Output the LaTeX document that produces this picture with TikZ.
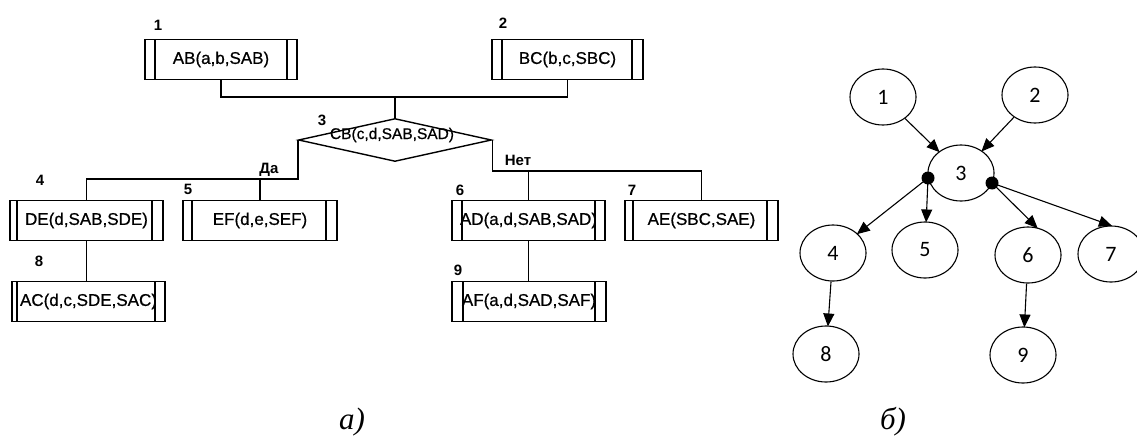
\documentclass[tikz,border=0pt]{standalone}
\usepackage{fontspec}
\setmainfont{Liberation Sans}
\newfontfamily\boxfont[FakeBold=0.6]{Liberation Sans}
\newfontfamily\capfont{Liberation Serif}
\newfontfamily\calfont{Carlito}
\usetikzlibrary{shapes.geometric,arrows.meta}
\begin{document}
\begin{tikzpicture}[x=1pt,y=-1pt,
  line width=1.4pt,
  pbox/.style n args={3}{draw, rectangle, inner sep=0pt, minimum width=#1, minimum height=40,
    font=\boxfont\fontsize{17}{20}\selectfont,
    path picture={
      \draw ([xshift=#2]path picture bounding box.north west) -- ([xshift=#2]path picture bounding box.south west);
      \draw ([xshift=-#3]path picture bounding box.north east) -- ([xshift=-#3]path picture bounding box.south east);}},
  num/.style={font=\bfseries\fontsize{15}{17}\selectfont, inner sep=0pt},
  ell/.style={draw, ellipse, line width=1.1pt, minimum width=66, minimum height=56, inner sep=0pt,
    font=\calfont\fontsize{22}{24}\selectfont},
  arr/.style={-{Triangle[length=13pt,width=11pt]}, line width=1.1pt, shorten >=-1pt},
  dot/.style={circle, fill=black, inner sep=0pt, minimum size=13},
  captext/.style={font=\capfont\itshape\fontsize{31}{34}\selectfont, anchor=base, inner sep=0pt}
]
\clip (0,0) rectangle (1137,439);
\fill[white] (0,0) rectangle (1137,439);

% ---- left diagram ----
\node[pbox={152}{10}{10}] (b1) at (221,59.5) {AB(a,b,SAB)};
\node[pbox={151}{10}{11}] (b2) at (567.5,59.5) {BC(b,c,SBC)};
\node[draw, diamond, inner sep=0pt, minimum width=193, minimum height=43] (d3) at (395,140) {};
\node[font=\boxfont\fontsize{15.5}{18}\selectfont, inner sep=0pt] (t3) at (392,135) {CB(c,d,SAB,SAD)};
\node[pbox={153}{7}{11}] (b4) at (86.5,220.5) {DE(d,SAB,SDE)};
\node[pbox={154}{9}{11}] (b5) at (260,220.5) {EF(d,e,SEF)};
\node[pbox={153}{10}{10}] (b6) at (528.5,220.5) {AD(a,d,SAB,SAD)};
\node[pbox={153}{8}{11}] (b7) at (701.5,220.5) {AE(SBC,SAE)};
\node[pbox={153}{5}{10}] (b8) at (88.5,301.5) {AC(d,c,SDE,SAC)};
\node[pbox={154}{11}{11}] (b9) at (529,301.5) {AF(a,d,SAD,SAF)};

\node[num] (n1) at (158,25) {1};
\node[num] (n2) at (503,23) {2};
\node[num] (n3) at (322,120) {3};
\node[num] (n4) at (40,180) {4};
\node[num] (n5) at (188,189) {5};
\node[num] (n6) at (460,190) {6};
\node[num] (n7) at (632,190) {7};
\node[num] (n8) at (39,261) {8};
\node[num] (n9) at (458,270) {9};
\node[num] (yes) at (269,170) {Да};
\node[num] (no) at (518,160) {Нет};

\coordinate (j12) at (395,97);
\coordinate (jy) at (260,179);
\coordinate (jn) at (528.5,171);
\draw (b1.south) |- (j12) -| (b2.south);
\draw (j12) -- (d3.north);
\draw (d3.west) |- (jy) -| (b4.north);
\draw (jy) -- (b5.north);
\draw (d3.east) |- (jn) -| (b7.north);
\draw (jn) -- (b6.north);
\draw (b4.south) -- (b4.south |- b8.north);
\draw (b6.south) -- (b6.south |- b9.north);

% ---- right diagram ----
\node[ell] (e1) at (883,97) {1};
\node[ell] (e2) at (1035,95) {2};
\node[ell] (e3) at (961,173) {3};
\node[ell] (e4) at (833,253) {4};
\node[ell] (e5) at (925,250) {5};
\node[ell] (e6) at (1028,255) {6};
\node[ell] (e7) at (1111,254) {7};
\node[ell] (e8) at (826,354) {8};
\node[ell] (e9) at (1023,355) {9};

\node[dot] (dA) at (928,178) {};
\node[dot] (dB) at (992,183) {};

\draw[arr] (e1) -- (e3);
\draw[arr] (e2) -- (e3);
\draw[arr] (dA.center) -- (e4);
\draw[arr] (dA.center) -- (e5);
\draw[arr] (dB.center) -- (e6.72);
\draw[arr] (dB.center) -- (e7.north);
\draw[arr] (e4) -- (e8);
\draw[arr] (e6) -- (e9);

% ---- captions ----
\node[captext] (ca) at (352,429) {а)};
\node[captext] (cb) at (893,429) {б)};
\end{tikzpicture}
\end{document}
